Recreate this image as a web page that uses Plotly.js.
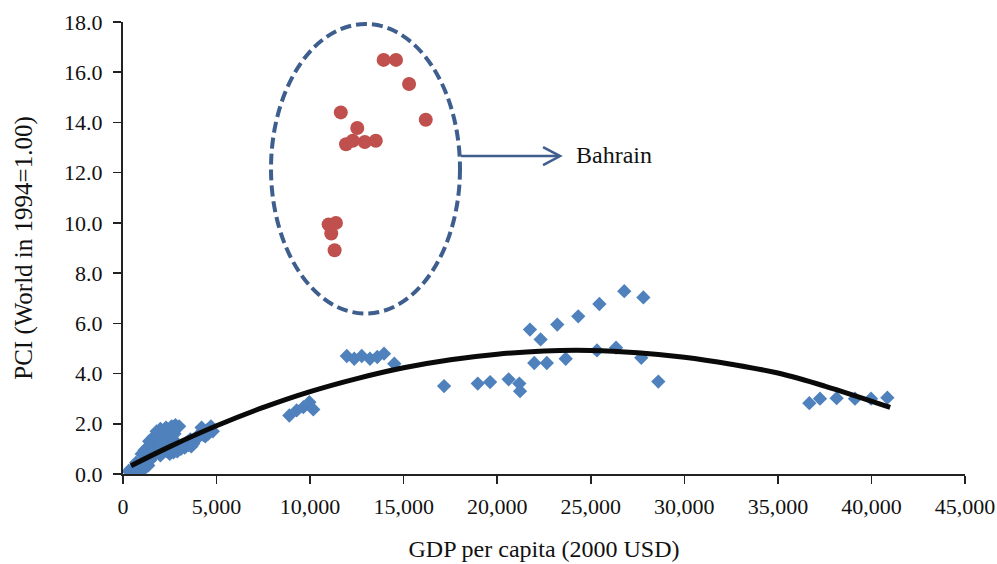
<!DOCTYPE html>
<html>
<head>
<meta charset="utf-8">
<script src="https://cdn.plot.ly/plotly-3.0.1.min.js"></script>
<style>
  html, body { margin: 0; padding: 0; background: #ffffff; }
  #chart { width: 997px; height: 564px; }
</style>
</head>
<body>
<div id="chart"></div>
<script>
// GDP per capita (2000 USD) and PCI for the country sample
const countryGdp = [
  300, 500, 650, 800, 900, 1100, 700, 1350, 550, 1000,
  1000, 1150, 1300, 1400, 1500, 1600, 1700, 1800, 1900, 2000, 2100, 2200,
  2300, 2400, 2500, 2600, 2800, 3000, 1800, 2000, 2200, 2350, 2500, 2700,
  2900, 3100, 1600, 2450, 1250, 1450, 1700, 1950, 2150, 2650, 2850, 2300,
  1900, 2600, 1200, 1500, 2750,
  3500, 3600, 3750, 3900, 4100, 4300, 4500, 4650, 4800, 4400, 4200, 4700, 3300,
  3400, 3800, 4000, 4550, 3650,
  8890, 9280, 9640, 9960, 10170,
  11960, 12360, 12760, 13200, 13590, 13950, 14500,
  17160, 18960, 19620, 20610, 21180, 21220,
  21750, 23210, 24330, 25460, 26790, 27810, 22320,
  25330, 26350, 27700, 21980, 22650, 23660, 28610,
  36680, 37250, 38140, 39120, 39980, 40850
];
const countryPci = [
  0.12, 0.20, 0.30, 0.15, 0.25, 0.18, 0.45, 0.34, 0.10, 0.40,
  0.80, 0.95, 1.05, 1.30, 1.15, 1.45, 1.25, 1.70, 1.50, 1.80, 1.45, 1.75,
  1.85, 1.70, 1.80, 1.90, 1.95, 1.90, 0.95, 0.74, 1.10, 0.90, 0.80, 0.86,
  0.90, 1.00, 0.70, 1.30, 0.60, 0.55, 1.05, 1.20, 1.55, 1.40, 1.20, 1.05,
  1.30, 1.00, 0.35, 0.85, 1.60,
  1.15, 1.38, 1.20, 1.40, 1.60, 1.55, 1.75, 1.80, 1.70, 1.50, 1.85, 1.90, 1.05,
  1.25, 1.30, 1.45, 1.60, 1.10,
  2.33, 2.53, 2.66, 2.86, 2.57,
  4.70, 4.59, 4.70, 4.59, 4.66, 4.79, 4.39,
  3.50, 3.60, 3.66, 3.77, 3.60, 3.30,
  5.75, 5.95, 6.28, 6.77, 7.28, 7.03, 5.36,
  4.92, 5.03, 4.63, 4.42, 4.42, 4.59, 3.68,
  2.82, 3.00, 3.02, 3.00, 3.00, 3.04
];

// Bahrain, yearly observations
const bahrainGdp = [13930, 14590, 15290, 11640, 16180, 12520, 11920, 12280, 12920, 13510, 10990, 11380, 11130, 11310];
const bahrainPci = [16.49, 16.49, 15.53, 14.40, 14.11, 13.78, 13.13, 13.27, 13.22, 13.27, 9.94, 10.00, 9.58, 8.91];

// Quadratic trend of PCI on GDP per capita
const trendGdp = [430, 2500, 5000, 7500, 10000, 12500, 15000, 17500, 20000, 22500, 25000, 27500, 30000, 32500, 35000, 37500, 41000];
const trendPci = [0.33, 1.09, 1.92, 2.65, 3.28, 3.80, 4.23, 4.55, 4.77, 4.90, 4.92, 4.83, 4.65, 4.37, 4.02, 3.50, 2.65];

// Axis ticks
const xTicks = [0, 5000, 10000, 15000, 20000, 25000, 30000, 35000, 40000, 45000];
const yTicks = [0, 2, 4, 6, 8, 10, 12, 14, 16, 18];

const serif = '"Liberation Serif", "Times New Roman", serif';
const ringBlue = '#3e5e8e';
const ink = '#111111';

const traces = [
  {
    type: 'scatter', mode: 'markers',
    x: countryGdp, y: countryPci,
    marker: { symbol: 'diamond', size: 11, color: '#4f81bd', line: { width: 0 } },
    hoverinfo: 'x+y', showlegend: false
  },
  {
    type: 'scatter', mode: 'markers',
    x: bahrainGdp, y: bahrainPci,
    marker: { symbol: 'circle', size: 14, color: '#c0504d', line: { width: 0 } },
    hoverinfo: 'x+y', showlegend: false
  },
  {
    type: 'scatter', mode: 'lines',
    x: trendGdp, y: trendPci,
    line: { color: '#0a0a0a', width: 5, shape: 'spline', smoothing: 1 },
    hoverinfo: 'skip', showlegend: false
  }
];

const layout = {
  width: 997, height: 564,
  margin: { l: 123, r: 32, t: 22, b: 90 },
  paper_bgcolor: '#ffffff', plot_bgcolor: '#ffffff',
  font: { family: serif, size: 22, color: ink },
  xaxis: {
    range: [0, 45000], tickmode: 'array', tickvals: xTicks,
    tickformat: ',.0f', ticks: 'outside', ticklen: 8, tickwidth: 1.5, tickcolor: '#222222',
    showline: true, linecolor: '#222222', linewidth: 2,
    showgrid: false, zeroline: false, ticklabelstandoff: 4,
    tickfont: { family: serif, size: 22, color: ink },
    title: { text: 'GDP per capita (2000 USD)', font: { family: serif, size: 24, color: ink }, standoff: 22 }
  },
  yaxis: {
    range: [0, 18], tickmode: 'array', tickvals: yTicks,
    tickformat: '.1f', ticks: 'outside', ticklen: 8, tickwidth: 1.5, tickcolor: '#222222',
    showline: true, linecolor: '#222222', linewidth: 2,
    showgrid: false, zeroline: false, ticklabelstandoff: 6,
    tickfont: { family: serif, size: 22, color: ink },
    title: { text: 'PCI (World in 1994=1.00)', font: { family: serif, size: 25, color: ink }, standoff: 24 }
  },
  shapes: [
    // dashed ring around the Bahrain observations
    {
      type: 'circle', xref: 'x', yref: 'y',
      x0: 7910, x1: 18010, y0: 6.39, y1: 17.92,
      line: { color: ringBlue, width: 4, dash: '11px,5px' }
    },
    // pointer from the ring to the label
    {
      type: 'line', xref: 'x', yref: 'y',
      x0: 18065, x1: 23360, y0: 12.66, y1: 12.66,
      line: { color: ringBlue, width: 2.5 }
    },
    {
      type: 'path', xref: 'x', yref: 'y',
      path: 'M 22450,13.02 L 23360,12.66 L 22450,12.30',
      line: { color: ringBlue, width: 2.5 }
    }
  ],
  annotations: [
    {
      xref: 'x', yref: 'y', x: 24100, y: 12.72,
      xanchor: 'left', yanchor: 'middle',
      text: 'Bahrain', showarrow: false,
      font: { family: serif, size: 24, color: ink }
    }
  ]
};

Plotly.newPlot('chart', traces, layout, { staticPlot: true, displayModeBar: false });
</script>
</body>
</html>
